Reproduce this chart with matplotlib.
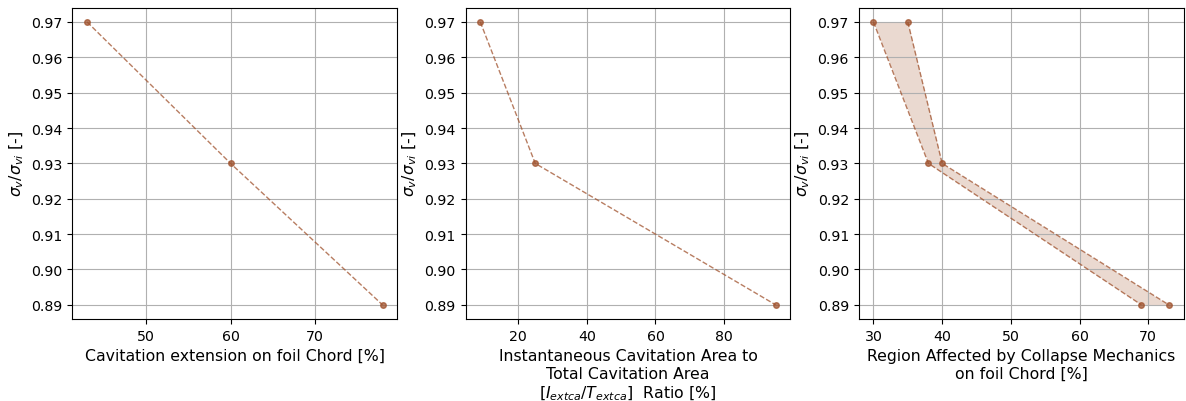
import matplotlib
matplotlib.use("Agg")
import matplotlib.pyplot as plt

# sigma ratio (shared y values)
sigma_ratio = [0.97, 0.93, 0.89]

# panel 1: cavitation extension on chord [%]
cav_extension = [43, 60, 78]

# panel 2: instantaneous / total cavitation area ratio [%]
area_ratio = [9, 25, 95]

# panel 3: region affected by collapse mechanics, lower / upper bounds [%]
collapse_low = [30, 38, 69]
collapse_high = [35, 40, 73]

COLOR = "sienna"
YLABEL = r"$\sigma_v/\sigma_{vi}$ [-]"

plt.rcParams["axes.labelsize"] = 11.3
plt.rcParams["xtick.labelsize"] = 10.2
plt.rcParams["ytick.labelsize"] = 10.2

fig, axes = plt.subplots(1, 3, figsize=(11.86, 4.02), dpi=100)
fig.subplots_adjust(left=0.061, right=0.998, top=0.978, bottom=0.204, wspace=0.21)

line_kw = dict(color=COLOR, linestyle="--", linewidth=1, marker="o", markersize=4, alpha=0.75)

# ── 1. cavitation extension ──────────────────────────────────────────
ax1 = axes[0]
ax1.plot(cav_extension, sigma_ratio, **line_kw)
ax1.set_xlabel("Cavitation extension on foil Chord [%]")

# ── 2. area ratio ────────────────────────────────────────────────────
ax2 = axes[1]
ax2.plot(area_ratio, sigma_ratio, **line_kw)
ax2.set_xlabel("Instantaneous Cavitation Area to\nTotal Cavitation Area\n"
               r"[$I_{extca}/T_{extca}$]  Ratio [%]")

# ── 3. collapse region band ──────────────────────────────────────────
ax3 = axes[2]
ax3.plot(collapse_low, sigma_ratio, **line_kw)
ax3.plot(collapse_high, sigma_ratio, **line_kw)
ax3.fill_betweenx(sigma_ratio, collapse_low, collapse_high, color=COLOR, alpha=0.22, linewidth=0)
ax3.set_xlabel("Region Affected by Collapse Mechanics\non foil Chord [%]")

for ax in axes:
    ax.set_ylabel(YLABEL)
    ax.grid(True)
    ax.set_yticks([0.89, 0.90, 0.91, 0.92, 0.93, 0.94, 0.95, 0.96, 0.97])

plt.savefig("out.png", dpi=100)
